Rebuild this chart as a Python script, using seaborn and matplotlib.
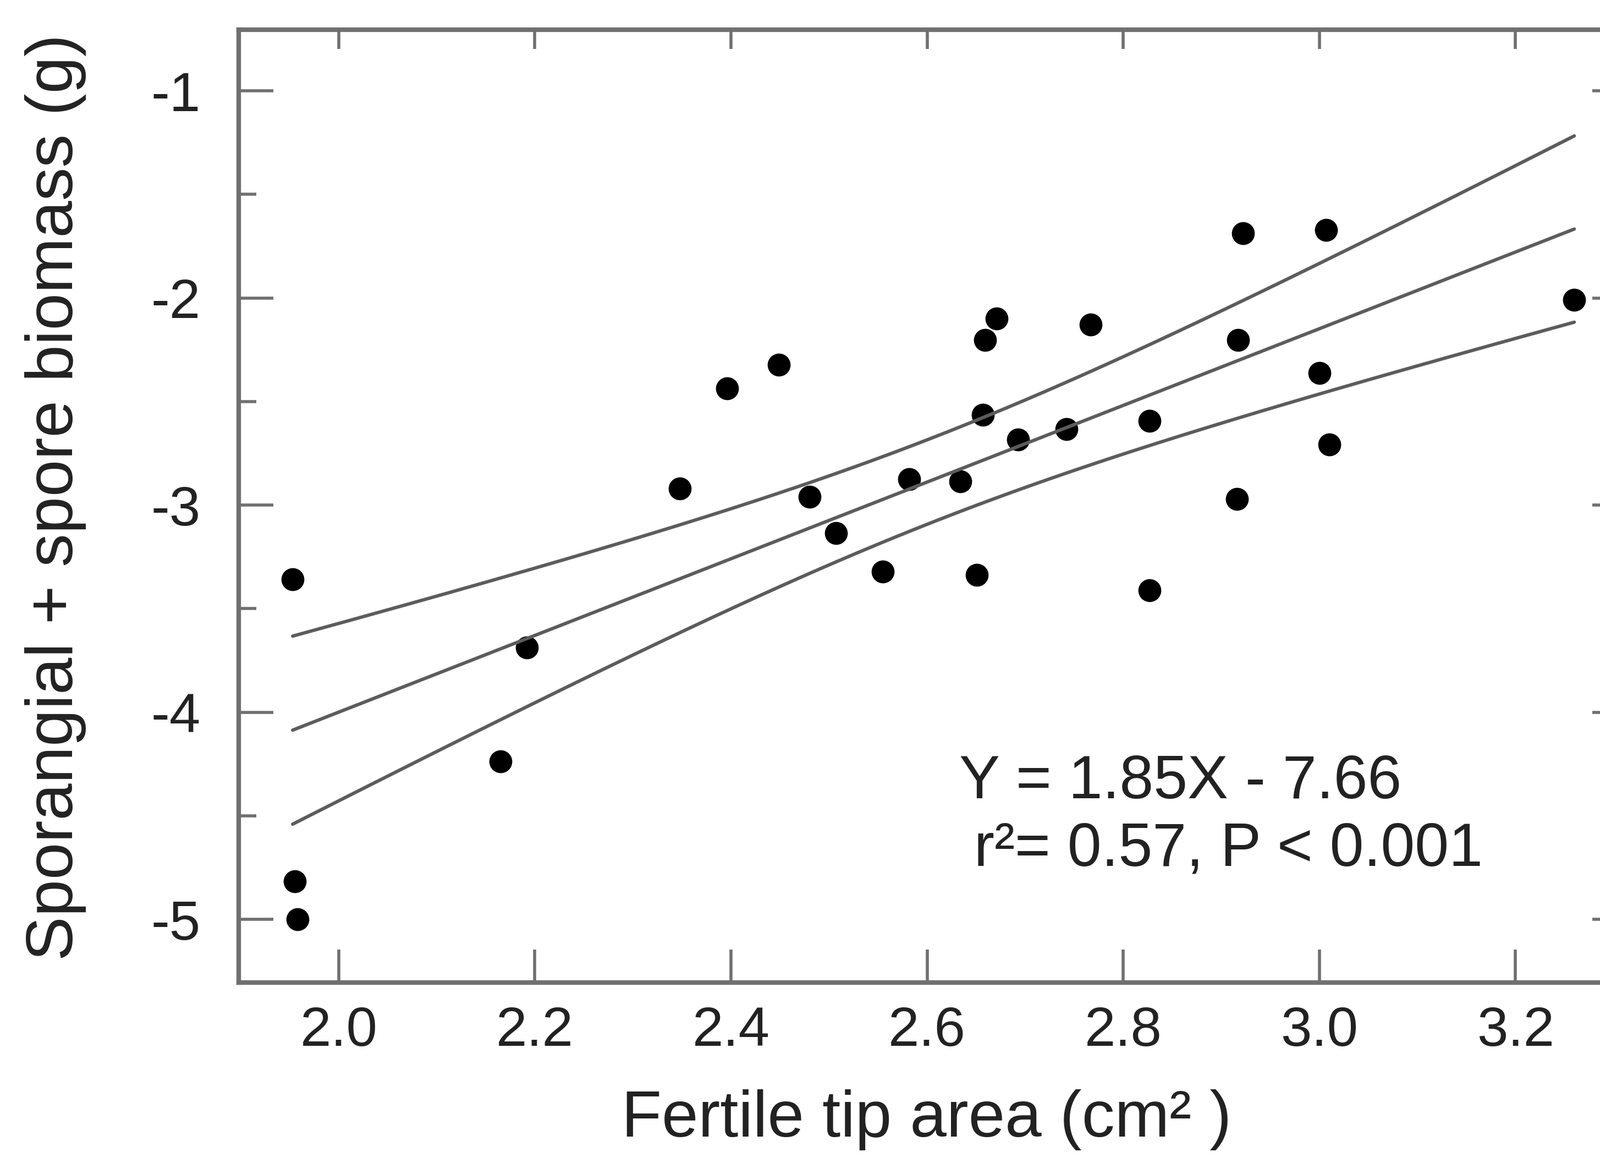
import numpy as np
import pandas as pd
import seaborn as sns
import matplotlib.pyplot as plt

# fertile tip area (cm2) vs sporangial + spore biomass (g)
tip_area = [1.953, 1.955, 1.958, 2.165, 2.192, 2.348, 2.396, 2.449, 2.480, 2.507,
            2.555, 2.582, 2.634, 2.651, 2.657, 2.659, 2.671, 2.693, 2.742, 2.767,
            2.827, 2.827, 2.916, 2.917, 2.922, 3.000, 3.007, 3.010, 3.260]
biomass = [-3.357, -4.817, -5.000, -4.238, -3.688, -2.921, -2.436, -2.322, -2.960, -3.134,
           -3.322, -2.876, -2.886, -3.337, -2.564, -2.203, -2.099, -2.683, -2.634, -2.129,
           -2.594, -3.411, -2.970, -2.203, -1.688, -2.361, -1.673, -2.708, -2.010]

x_ticks = [2.0, 2.2, 2.4, 2.6, 2.8, 3.0, 3.2]
x_tick_labels = ["2.0", "2.2", "2.4", "2.6", "2.8", "3.0", "3.2"]
y_ticks = [-1, -2, -3, -4, -5]
y_minor_ticks = [-1.5, -2.5, -3.5, -4.5]

eq_text = "Y = 1.85X - 7.66"
stats_text = "r²= 0.57, P < 0.001"

df = pd.DataFrame({"area": tip_area, "biomass": biomass})

sns.set_style("ticks")
plt.rcParams['font.family'] = ['Liberation Sans', 'DejaVu Sans']
plt.rcParams['axes.unicode_minus'] = False

axis_col = "#707070"
line_col = "#5c5c5c"
text_col = "#222222"

fig = plt.figure(figsize=(29.09, 21.34), dpi=100)
ax = fig.add_axes([434 / 2909, 348 / 2134, (2930 - 434) / 2909, 1732 / 2134])

sns.regplot(data=df, x="area", y="biomass", ax=ax, ci=None,
            scatter_kws={"s": 900, "color": "black", "alpha": 1, "linewidths": 0},
            line_kws={"color": line_col, "linewidth": 4.4})

# 95% confidence band for the regression line, drawn as two lines
x = df["area"].to_numpy()
y = df["biomass"].to_numpy()
n = len(x)
slope, intercept = np.polyfit(x, y, 1)
resid = y - (slope * x + intercept)
s = np.sqrt(np.sum(resid ** 2) / (n - 2))
sxx = np.sum((x - x.mean()) ** 2)
xs = np.linspace(x.min(), x.max(), 200)
half = 2.052 * s * np.sqrt(1 / n + (xs - x.mean()) ** 2 / sxx)
band = pd.DataFrame({"x": xs, "fit": slope * xs + intercept})
sns.lineplot(x=band["x"], y=band["fit"] + half, ax=ax, color=line_col, linewidth=4.4)
sns.lineplot(x=band["x"], y=band["fit"] - half, ax=ax, color=line_col, linewidth=4.4)

ax.set_xlim(1.898, 3.298)
ax.set_ylim(-5.305, -0.705)

ax.set_xticks(x_ticks)
ax.set_xticklabels(x_tick_labels)
ax.set_yticks(y_ticks)
ax.set_yticks(y_minor_ticks, minor=True)

for sp in ax.spines.values():
    sp.set_visible(True)
    sp.set_color(axis_col)
    sp.set_linewidth(6)

ax.tick_params(axis="x", which="major", direction="in", length=43, width=4,
               color=axis_col, pad=30, labelsize=73, labelcolor=text_col)
ax.tick_params(axis="y", which="major", direction="in", length=45, width=4,
               color=axis_col, pad=50, labelsize=73, labelcolor=text_col)
ax.tick_params(axis="y", which="minor", direction="in", length=23, width=4,
               color=axis_col)

top = ax.secondary_xaxis("top")
top.set_xticks(x_ticks)
top.tick_params(direction="in", length=25, width=4, color=axis_col, labeltop=False)
top.spines["top"].set_visible(False)

right = ax.secondary_yaxis("right")
right.set_yticks(y_ticks)
right.tick_params(direction="in", length=25, width=4, color=axis_col, labelright=False)
right.spines["right"].set_visible(False)

ax.set_xlabel("Fertile tip area (cm² )", fontsize=86, color=text_col)
ax.xaxis.set_label_coords(0.501, -0.112)
ax.set_ylabel("Sporangial + spore biomass (g)", fontsize=87, color=text_col)
ax.yaxis.set_label_coords(-0.111, 0.509)

ax.text(2.633, -4.416, eq_text, fontsize=80, color=text_col, va="baseline")
ax.text(2.648, -4.740, stats_text, fontsize=80, color=text_col, va="baseline")

fig.savefig("out.png", dpi=100, facecolor="white")
